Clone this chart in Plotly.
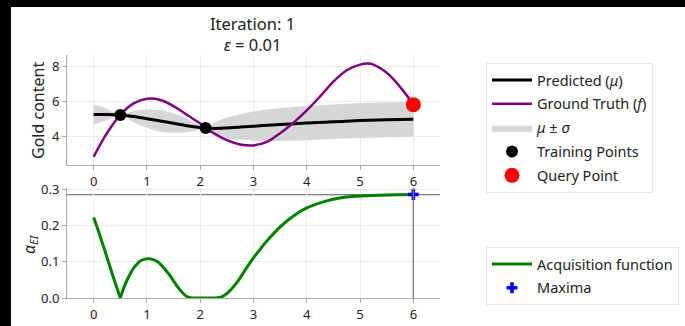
import plotly.graph_objects as go
from plotly.subplots import make_subplots

FONT = "Noto Sans"

# ---------------- data ----------------
gt_x = [0, 0.25, 0.5, 0.75, 1.0, 1.25, 1.5, 1.75, 2.0, 2.1, 2.25, 2.5, 2.75, 3.0, 3.25,
        3.5, 3.75, 4.0, 4.25, 4.5, 4.75, 5.0, 5.15, 5.25, 5.5, 5.75, 6.0]
gt_y = [2.85, 4.2, 5.25, 5.9, 6.17, 6.1, 5.75, 5.25, 4.75, 4.5, 4.2, 3.8, 3.55, 3.5, 3.7,
        4.2, 4.8, 5.5, 6.3, 7.15, 7.8, 8.12, 8.18, 8.12, 7.65, 6.85, 5.85]

mu_x = [0, 0.25, 0.5, 0.75, 1.0, 1.25, 1.5, 1.75, 2.0, 2.1, 2.25, 2.5, 3.0, 3.5, 4.0,
        4.5, 5.0, 5.5, 6.0]
mu_y = [5.27, 5.27, 5.24, 5.15, 5.03, 4.9, 4.77, 4.63, 4.52, 4.49, 4.47, 4.5, 4.6, 4.7, 4.78,
        4.85, 4.92, 4.97, 5.0]
sigma = [0.57, 0.33, 0.0, 0.32, 0.52, 0.62, 0.55, 0.38, 0.1, 0.0, 0.3, 0.58, 0.84, 0.94, 0.98,
         0.99, 1.0, 1.0, 1.0]

train_x = [0.5, 2.1]
train_y = [5.24, 4.49]
query_x = [6.0]
query_y = [5.83]

# acquisition function, split into segments at its kinks
ei_x = [0, 0.1, 0.2, 0.3, 0.4, 0.5, None,
        0.5, 0.6, 0.75, 0.9, 1.05, 1.2, 1.4, 1.6, 1.75, 1.85, None,
        1.85, 2.3, None,
        2.3, 2.4, 2.5, 2.7, 2.9, 3.1, 3.3, 3.5, 3.75, 4.0, 4.25, 4.5, 4.75, 5.0, 5.5, 6.0]
ei_y = [0.222, 0.18, 0.135, 0.089, 0.044, 0.0, None,
        0.0, 0.04, 0.082, 0.104, 0.108, 0.1, 0.068, 0.026, 0.004, 0.0, None,
        0.0, 0.0, None,
        0.0, 0.003, 0.012, 0.045, 0.09, 0.13, 0.165, 0.196, 0.226, 0.248, 0.262, 0.272, 0.278,
        0.281, 0.284, 0.285]
max_x = [6.0]
max_y = [0.285]

x_ticks = [0, 1, 2, 3, 4, 5, 6]
top_yticks = [4, 6, 8]
bot_yticks = [0.0, 0.1, 0.2, 0.3]

# ---------------- figure ----------------
W, H = 685, 326
ML, MR, MT, MB = 67, 245, 55, 28
PW, PH = W - ML - MR, H - MT - MB


def px_x(p):
    return (p - ML) / PW


def px_y(p):
    return (H - MB - p) / PH


fig = make_subplots(rows=2, cols=1, shared_xaxes=False, vertical_spacing=0.0)

upper = [m + s for m, s in zip(mu_y, sigma)]
lower = [m - s for m, s in zip(mu_y, sigma)]

fig.add_trace(go.Scatter(x=mu_x, y=lower, mode="lines", line=dict(width=0, shape="spline"),
                         showlegend=False, hoverinfo="skip"), row=1, col=1)
fig.add_trace(go.Scatter(x=mu_x, y=upper, fill="tonexty",
                         fillcolor="rgb(214,214,214)", line=dict(width=0, shape="spline"),
                         mode="lines", name="<i>μ</i> ± <i>σ</i>", legend="legend",
                         legendgroup="c", legendrank=3, hoverinfo="skip"), row=1, col=1)
fig.add_trace(go.Scatter(x=mu_x, y=mu_y, mode="lines", line=dict(color="black", width=3, shape="spline"),
                         name="Predicted (<i>μ</i>)", legend="legend", legendgroup="a",
                         legendrank=1), row=1, col=1)
fig.add_trace(go.Scatter(x=gt_x, y=gt_y, mode="lines", line=dict(color="purple", width=2.5, shape="spline"),
                         name="Ground Truth (<i>f</i>)", legend="legend", legendgroup="b",
                         legendrank=2), row=1, col=1)
fig.add_trace(go.Scatter(x=train_x, y=train_y, mode="markers",
                         marker=dict(color="black", size=12),
                         name="Training Points", legend="legend", legendgroup="d",
                         legendrank=4), row=1, col=1)
fig.add_trace(go.Scatter(x=query_x, y=query_y, mode="markers",
                         marker=dict(color="red", size=15),
                         name="Query Point", legend="legend", legendgroup="e",
                         legendrank=5, cliponaxis=False), row=1, col=1)

fig.add_trace(go.Scatter(x=ei_x, y=ei_y, mode="lines",
                         line=dict(color="green", width=3, shape="spline"),
                         name="Acquisition function", legend="legend2", legendgroup="f",
                         legendrank=1), row=2, col=1)
fig.add_trace(go.Scatter(x=max_x, y=max_y, mode="markers",
                         marker=dict(color="blue", size=9, symbol="cross"),
                         name="Maxima", legend="legend2", legendgroup="g",
                         legendrank=2, cliponaxis=False), row=2, col=1)

# reference lines at the maximum
fig.add_shape(type="line", xref="x2", yref="y2 domain", x0=max_x[0], x1=max_x[0], y0=0, y1=1,
              line=dict(color="rgb(120,120,120)", width=1.3), layer="above")
fig.add_shape(type="line", xref="x2 domain", yref="y2", x0=0, x1=1, y0=max_y[0], y1=max_y[0],
              line=dict(color="rgb(120,120,120)", width=1.3), layer="below")

# black border strips of the screenshot
fig.add_shape(type="rect", xref="paper", yref="paper", x0=px_x(0), x1=px_x(11),
              y0=px_y(H), y1=px_y(0), fillcolor="black", line=dict(width=0), layer="above")
fig.add_shape(type="rect", xref="paper", yref="paper", x0=px_x(0), x1=px_x(W),
              y0=px_y(7), y1=px_y(0), fillcolor="black", line=dict(width=0), layer="above")

axis_common = dict(showline=True, linecolor="rgb(170,170,170)", linewidth=1,
                   ticks="outside", ticklen=4, tickcolor="rgb(170,170,170)",
                   showgrid=True, gridcolor="rgb(235,235,235)", gridwidth=1,
                   zeroline=False, automargin=False,
                   tickfont=dict(family=FONT, size=13, color="#222"))

fig.update_xaxes(range=[-0.5, 6.5], tickvals=x_ticks, **axis_common)
fig.update_layout(
    xaxis=dict(domain=[0, 1], anchor="y"),
    xaxis2=dict(domain=[0, 1], anchor="y2"),
    yaxis=dict(domain=[px_y(165), 1], range=[2.38, 8.67], tickvals=top_yticks, **axis_common),
    yaxis2=dict(domain=[0, px_y(188)], range=[0, 0.303], tickvals=bot_yticks, tickformat=".1f",
                **axis_common),
)

fig.add_annotation(text="Gold content", xref="paper", yref="paper", x=px_x(38), y=px_y(111),
                   textangle=-90, showarrow=False, font=dict(family=FONT, size=16, color="#222"),
                   xanchor="center", yanchor="middle")
fig.add_annotation(text="<i>α<sub>EI</sub></i>", xref="paper", yref="paper", x=px_x(29), y=px_y(244),
                   textangle=-90, showarrow=False, font=dict(family=FONT, size=16, color="#222"),
                   xanchor="center", yanchor="middle")
fig.add_annotation(text="Iteration: 1<br><i>ε</i> = 0.01", xref="paper", yref="paper",
                   x=px_x(252), y=px_y(10), showarrow=False, align="center",
                   font=dict(family=FONT, size=16.5, color="#222"),
                   xanchor="center", yanchor="top")

legend_common = dict(bgcolor="white", bordercolor="rgb(230,230,230)", borderwidth=1,
                     font=dict(family=FONT, size=14.5, color="#222"), traceorder="grouped",
                     tracegroupgap=2, xanchor="left", yanchor="top", itemwidth=40,
                     xref="container", yref="container")

fig.update_layout(
    width=W, height=H,
    margin=dict(l=ML, r=MR, t=MT, b=MB, autoexpand=False),
    paper_bgcolor="white", plot_bgcolor="white",
    showlegend=True,
    legend=dict(x=486 / W, y=1 - 63 / H, **legend_common),
    legend2=dict(x=486 / W, y=1 - 247 / H, **legend_common),
)

fig.write_html("out.html")
